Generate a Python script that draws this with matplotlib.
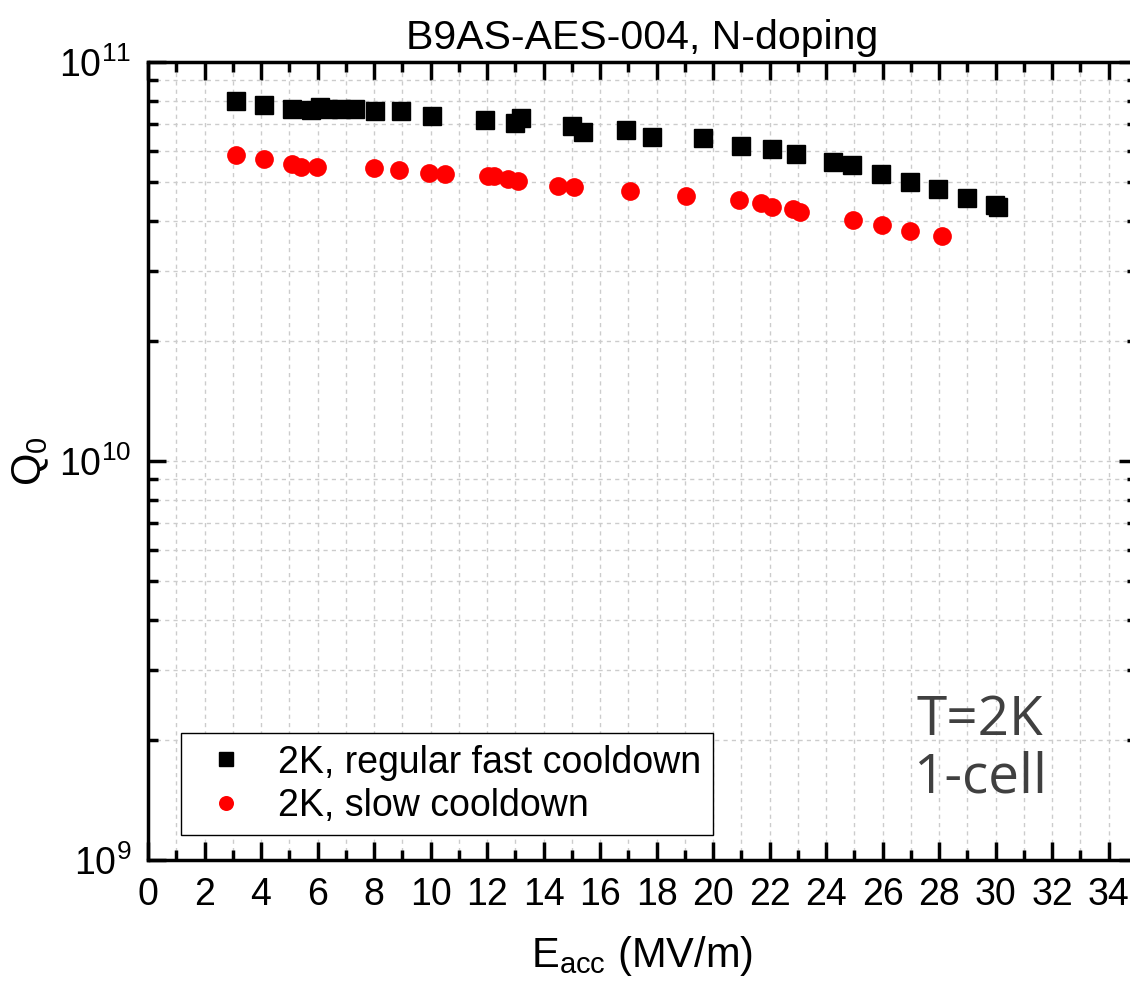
import matplotlib
matplotlib.use("Agg")
import matplotlib.pyplot as plt
from matplotlib.ticker import MultipleLocator, LogLocator, NullFormatter, FixedLocator

plt.rcParams['font.family'] = ['Liberation Sans', 'DejaVu Sans']
plt.rcParams['mathtext.fontset'] = 'custom'
plt.rcParams['mathtext.rm'] = 'Liberation Sans'
plt.rcParams['mathtext.it'] = 'Liberation Sans:italic'

# Data
fast_E = [3.12, 4.10, 5.08, 5.76, 6.08, 6.37, 6.84, 7.31, 8.05, 8.94, 10.05, 11.93,
          12.99, 13.20, 15.01, 15.38, 16.91, 17.84, 19.64, 20.99, 22.08, 22.93,
          24.23, 24.93, 25.94, 26.95, 27.96, 28.98, 29.96, 30.07]
fast_Q = [8.0e10, 7.82e10, 7.61e10, 7.57e10, 7.73e10, 7.64e10, 7.61e10, 7.61e10,
          7.54e10, 7.54e10, 7.33e10, 7.16e10, 7.02e10, 7.23e10, 6.91e10, 6.69e10,
          6.74e10, 6.49e10, 6.46e10, 6.16e10, 6.06e10, 5.88e10, 5.63e10, 5.53e10,
          5.23e10, 5.01e10, 4.80e10, 4.55e10, 4.38e10, 4.33e10]

slow_E = [3.13, 4.10, 5.11, 5.40, 5.98, 7.99, 8.88, 9.96, 10.52, 12.02, 12.26, 12.73,
          13.08, 14.50, 15.09, 17.07, 19.05, 20.93, 21.68, 22.08, 22.84, 23.07,
          24.95, 25.97, 26.98, 28.09]
slow_Q = [5.85e10, 5.71e10, 5.55e10, 5.46e10, 5.46e10, 5.41e10, 5.36e10, 5.26e10,
          5.24e10, 5.18e10, 5.17e10, 5.08e10, 5.04e10, 4.89e10, 4.87e10, 4.75e10,
          4.62e10, 4.50e10, 4.42e10, 4.32e10, 4.29e10, 4.22e10, 4.01e10, 3.91e10,
          3.78e10, 3.67e10]

x_ticks = list(range(0, 35, 2))
labels = ["2K, regular fast cooldown", "2K, slow cooldown"]

W, H = 1130, 983
fig = plt.figure(figsize=(W / 100, H / 100), dpi=100)
L, R, T, B = 148, 1137, 62, 860
ax = fig.add_axes([L / W, 1 - B / H, (R - L) / W, (B - T) / H])

ax.plot(fast_E, fast_Q, 's', color='black', markersize=12.5, label=labels[0], zorder=3)
ax.plot(slow_E, slow_Q, 'o', color='#ff0000', markersize=13.5, markeredgewidth=0,
        label=labels[1], zorder=3)

ax.set_yscale('log')
ax.set_ylim(1e9, 1e11)
ax.set_xlim(0, 35)
ax.set_xticks(x_ticks)
ax.xaxis.set_minor_locator(MultipleLocator(1))
ax.yaxis.set_major_locator(FixedLocator([1e9, 1e10, 1e11]))
ax.yaxis.set_minor_locator(LogLocator(base=10, subs=range(2, 10)))
ax.yaxis.set_minor_formatter(NullFormatter())
ax.set_yticklabels([r'$10^{9}$', r'$10^{10}$', r'$10^{11}$'])

ax.grid(True, which='both', color='#cccccc', linestyle=(0, (3, 3)), linewidth=1.0, zorder=0)
ax.set_axisbelow(True)

for s in ax.spines.values():
    s.set_linewidth(2.5)
ax.tick_params(which='both', direction='in', top=True, right=True, width=2.5,
               labelsize=27)
ax.tick_params(axis='x', pad=12)
ax.tick_params(axis='y', pad=12)
ax.tick_params(which='major', length=13)
ax.tick_params(which='minor', length=7)

ax.set_title('B9AS-AES-004, N-doping', fontsize=29.5, pad=9)
ax.set_xlabel(r'E$_{\mathrm{acc}}$ (MV/m)', fontsize=30, labelpad=15)
ax.set_ylabel(r'Q$_{\mathrm{0}}$', fontsize=30, labelpad=6)

leg = ax.legend(loc='lower left', bbox_to_anchor=(0.033, 0.031), fontsize=27,
                frameon=True, fancybox=False, framealpha=1, edgecolor='black',
                handletextpad=0.5, borderpad=0.3, labelspacing=0.2, handlelength=1.8,
                markerscale=0.8, borderaxespad=0)
leg.get_frame().set_linewidth(1.0)

ax.text(0.841, 0.139, 'T=2K\n1-cell', transform=ax.transAxes, fontsize=39.5,
        family=['Open Sans', 'DejaVu Sans'], color='#404040', ha='center', va='center',
        linespacing=1.05)

fig.savefig('out.png', dpi=100)
